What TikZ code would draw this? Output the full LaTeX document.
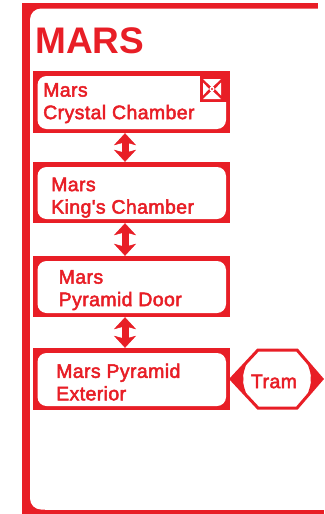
\documentclass[tikz,border=0pt]{standalone}
\usepackage{fontspec}
\setmainfont{Liberation Sans}
\newfontfamily\boxfont[FakeBold=2.5, LetterSpace=2]{Liberation Sans}
\usetikzlibrary{arrows.meta}
\definecolor{marsred}{RGB}{232,30,38}
\begin{document}
\begin{tikzpicture}[x=1pt,y=-1pt,
  roombox/.style={fill=marsred, draw=none, inner sep=0pt,
    minimum width=197pt, minimum height=62pt,
    path picture={\fill[white, rounded corners=9pt]
      ([shift={(4.5pt,-5pt)}]path picture bounding box.north west) rectangle
      ([shift={(-4pt,4pt)}]path picture bounding box.south east);}},
  roomtext/.style={anchor=north west, inner sep=0pt, align=left, text=marsred,
    font=\boxfont\fontsize{19.5}{22.5}\selectfont},
  dblarrow/.style={draw=marsred, line width=7pt,
    {Stealth[length=12pt, width=22pt, inset=3pt, line width=0.4pt, fill=marsred]}-{Stealth[length=12pt, width=22pt, inset=3pt, line width=0.4pt, fill=marsred]}},
  hexline/.style={draw=marsred, line width=3pt, line join=miter},
  tiptri/.style={fill=marsred}
]
\useasboundingbox (0,0) rectangle (324,514);
\clip (0,0) rectangle (324,514);

% frame
\fill[marsred] (22,3) rectangle (318,8.5);
\fill[marsred] (22,3) rectangle (30,514);
\fill[marsred] (22,509.5) rectangle (324,514);
\fill[marsred] (22,3) rectangle (45,25);
\fill[marsred] (22,490) rectangle (45,514);
\fill[white, rounded corners=11pt] (30,8.5) rectangle (345,509.5);

% title
\node[anchor=base west, inner sep=0pt, text=marsred,
      font=\bfseries\fontsize{37}{40}\selectfont] (title) at (35,53.5) {MARS};

% room boxes
\node[roombox] (b1) at (131.5,102) {};
\node[roombox, minimum height=61pt] (b2) at (131.5,192.5) {};
\node[roombox, minimum height=61pt] (b3) at (131.5,286.5) {};
\node[roombox] (b4) at (131.5,379) {};

% icon in first box
\fill[marsred] (200,72) rectangle (226.5,102);
\fill[white] (203,79) -- (221,79) -- (212,87.5) -- cycle;
\fill[white] (203,99) -- (221,99) -- (212,90.5) -- cycle;
\fill[white] (203,82.5) -- (203,95.5) -- (209,89) -- cycle;
\fill[white] (221,82.5) -- (221,95.5) -- (215,89) -- cycle;
\fill[white] (212,89) circle[radius=2.6pt];
\fill[marsred] (212,89) circle[radius=1.2pt];

% texts
\node[roomtext] (t1) at (43,83) {Mars\\Crystal Chamber};
\node[roomtext] (t2) at (51,177.5) {Mars\\King's Chamber};
\node[roomtext] (t3) at (58.5,270) {Mars\\Pyramid Door};
\node[roomtext] (t4) at (56,363.5) {Mars Pyramid\\Exterior};

% arrows
\draw[dblarrow] ([xshift=-6.5pt]b1.south) -- ([xshift=-6.5pt]b2.north);
\draw[dblarrow] ([xshift=-6.5pt]b2.south) -- ([xshift=-6.5pt]b3.north);
\draw[dblarrow] ([xshift=-6.5pt]b3.south) -- ([xshift=-6.5pt]b4.north);

% tram hexagon
\coordinate (hl) at (231,379);
\coordinate (htl) at (258,350);
\coordinate (htr) at (297,350);
\coordinate (hr) at (322,379);
\coordinate (hbr) at (297,408);
\coordinate (hbl) at (258,408);
\draw[hexline] (hl) -- (htl) -- (htr) -- (hr) -- (hbr) -- (hbl) -- cycle;
\node[text=marsred, inner sep=0pt, font=\boxfont\fontsize{19.5}{22}\selectfont] (tram) at (274,381.5) {Tram};
\fill[tiptri] (hl) -- (247,361.5) .. controls (245,369) and (242,375) .. (243.5,379)
   .. controls (242,383) and (245,389) .. (247,396.5) -- cycle;
\fill[tiptri] (hr) -- (307,361.5) .. controls (309,369) and (312,375) .. (310.5,379)
   .. controls (312,383) and (309,389) .. (307,396.5) -- cycle;
\end{tikzpicture}
\end{document}
